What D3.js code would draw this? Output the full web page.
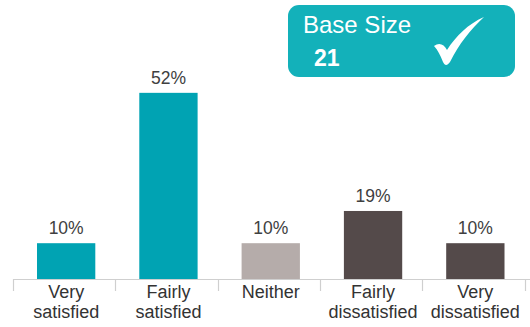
<!DOCTYPE html>
<html>
<head>
<meta charset="utf-8">
<script src="https://cdn.jsdelivr.net/npm/d3@7"></script>
<style>
  html, body { margin: 0; padding: 0; background: #fff; }
  svg { display: block; font-family: "Liberation Sans", Arial, sans-serif; }
</style>
</head>
<body>
<svg id="chart" width="530" height="327"></svg>
<script>
// Satisfaction responses
const categories = [["Very", "satisfied"], ["Fairly", "satisfied"], ["Neither"], ["Fairly", "dissatisfied"], ["Very", "dissatisfied"]];
const values = [10, 52, 10, 19, 10];
const barColors = ["#00A3B3", "#00A3B3", "#B5ACAA", "#544A4A", "#544A4A"];
const baseSize = 21;

const svg = d3.select("#chart");
const axisY = 279;
const barShift = 2;

const x = d3.scaleBand()
  .domain(d3.range(categories.length))
  .range([13, 524.5])
  .paddingInner(0.43)
  .paddingOuter(0.215);

const y = d3.scaleLinear()
  .domain([0, 60])
  .range([axisY, axisY - 60 * 3.58]);

// Bars
svg.append("g").selectAll("rect")
  .data(values)
  .join("rect")
  .attr("x", (d, i) => x(i) + barShift)
  .attr("y", d => y(d))
  .attr("width", x.bandwidth())
  .attr("height", d => axisY - y(d))
  .attr("fill", (d, i) => barColors[i]);

// Value labels
svg.append("g").selectAll("text")
  .data(values)
  .join("text")
  .attr("x", (d, i) => x(i) + barShift + x.bandwidth() / 2)
  .attr("y", d => y(d) - 9)
  .attr("text-anchor", "middle")
  .attr("font-size", 17.5)
  .attr("fill", "#404040")
  .text(d => d + "%");

// Category axis: baseline with tick separators between bands
const step = x.step();
const edges = d3.range(categories.length + 1).map(i => 13 + i * step);
const axis = svg.append("g");
axis.append("line")
  .attr("x1", 13).attr("x2", 530)
  .attr("y1", axisY + 0.5).attr("y2", axisY + 0.5)
  .attr("stroke", "#CFCFCF").attr("stroke-width", 1.2);
axis.selectAll("line.tick")
  .data(edges)
  .join("line")
  .attr("class", "tick")
  .attr("x1", d => Math.round(d) + 0.5).attr("x2", d => Math.round(d) + 0.5)
  .attr("y1", axisY).attr("y2", axisY + 12)
  .attr("stroke", "#CFCFCF").attr("stroke-width", 1.2);

const labels = axis.selectAll("text")
  .data(categories)
  .join("text")
  .attr("x", (d, i) => x(i) + barShift + x.bandwidth() / 2)
  .attr("y", 298)
  .attr("text-anchor", "middle")
  .attr("font-size", 18)
  .attr("fill", "#333333");
labels.selectAll("tspan")
  .data(d => d)
  .join("tspan")
  .attr("x", function () { return this.parentNode.getAttribute("x"); })
  .attr("dy", (d, i) => i === 0 ? 0 : 20)
  .text(d => d);

// Base size badge
const badge = svg.append("g");
badge.append("rect")
  .attr("x", 288).attr("y", 5)
  .attr("width", 227).attr("height", 72)
  .attr("rx", 11)
  .attr("fill", "#13B1BA");
badge.append("text")
  .attr("x", 303).attr("y", 33)
  .attr("font-size", 24)
  .attr("fill", "#fff")
  .text("Base Size");
badge.append("text")
  .attr("x", 314).attr("y", 66)
  .attr("font-size", 23)
  .attr("font-weight", "bold")
  .attr("fill", "#fff")
  .text(baseSize);
badge.append("path")
  .attr("d", "M434,46 C439,42 444,44 447,50 C456,36 468,24 484,17 C470,30 459,44 450,62 C447,66 445,66 443,62 C440,55 438,50 434,46 Z")
  .attr("fill", "#fff");
</script>
</body>
</html>
